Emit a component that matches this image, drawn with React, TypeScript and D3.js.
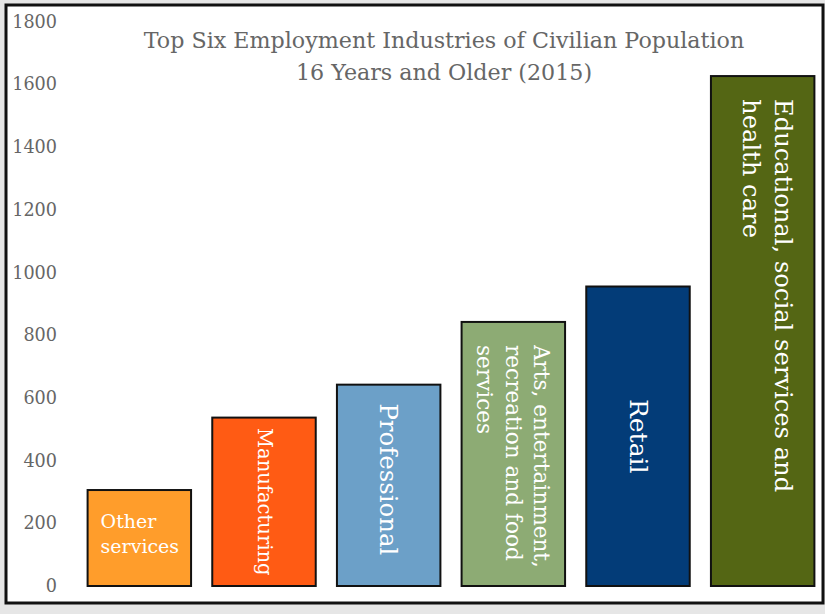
import React from "react";
import * as d3 from "d3";

const categories = [
  "Other services",
  "Manufacturing",
  "Professional",
  "Arts, entertainment, recreation and food services",
  "Retail",
  "Educational, social services and health care",
];
const values = [306, 537, 642, 842, 955, 1626];
const colors = ["#ff9d2b", "#ff5b14", "#6ca0c8", "#8dab74", "#033c78", "#546614"];
const yTicks = [0, 200, 400, 600, 800, 1000, 1200, 1400, 1600, 1800];
const titleLines = [
  "Top Six Employment Industries of Civilian Population",
  "16 Years and Older (2015)",
];
// how each label is broken and set inside its bar
const labelLines = [
  ["Other", "services"],
  ["Manufacturing"],
  ["Professional"],
  ["Arts, entertainment,", "recreation and food", "services"],
  ["Retail"],
  ["Educational, social services and", "health care"],
];
const labelSizes = [19, 19.5, 24.4, 21.6, 25, 24.2];

const W = 825;
const H = 614;
const FONT = "'DejaVu Serif', serif";

export default function App() {
  const x = d3
    .scaleBand<string>()
    .domain(categories)
    .range([77, 825])
    .paddingInner(0.17)
    .paddingOuter(0.085);

  const y = d3.scaleLinear().domain([0, 1800]).range([586, 21.5]);

  const renderLabel = (cat: string, i: number) => {
    const lines = labelLines[i];
    const fs = labelSizes[i];
    const x0 = x(cat)!;
    const cx = x0 + x.bandwidth() / 2;
    const top = y(values[i]);
    const mid = (top + y(0)) / 2;

    if (i === 0) {
      // horizontal label
      return (
        <text
          key={cat}
          fill="#fff"
          fontFamily={FONT}
          fontSize={fs}
          x={x0 + 13}
          y={mid - 10}
        >
          {lines.map((l, j) => (
            <tspan key={j} x={x0 + 13} dy={j === 0 ? 0 : 25}>
              {l}
            </tspan>
          ))}
        </text>
      );
    }

    const multi = lines.length > 1;
    const lh = i === 5 ? 32 : 28.5;
    const ay = multi ? top + 23 : mid - (i === 2 ? 6 : 0);
    const shift = i === 5 ? 4 : 0;
    return (
      <g key={cat} transform={`translate(${cx + shift},${ay}) rotate(90)`}>
        {lines.map((l, j) => (
          <text
            key={j}
            fill="#fff"
            fontFamily={FONT}
            fontSize={fs}
            textAnchor={multi ? "start" : "middle"}
            dominantBaseline="central"
            y={(j - (lines.length - 1) / 2) * lh}
          >
            {l}
          </text>
        ))}
      </g>
    );
  };

  return (
    <div
      style={{
        position: "fixed",
        left: 0,
        top: 0,
        width: W,
        height: H,
        background: "#e6e6e6",
      }}
    >
      <svg width={W} height={H}>
        <rect x={6} y={5} width={817} height={598} fill="#fff" stroke="#111" strokeWidth={3} />

        {titleLines.map((t, i) => (
          <text
            key={i}
            x={444}
            y={48 + i * 32}
            textAnchor="middle"
            fill="#666"
            fontFamily={FONT}
            fontSize={22.2}
          >
            {t}
          </text>
        ))}

        {yTicks.map((t) => (
          <text
            key={t}
            x={57}
            y={y(t)}
            dy="0.35em"
            textAnchor="end"
            fill="#666"
            fontFamily={FONT}
            fontSize={17.6}
          >
            {t}
          </text>
        ))}

        {categories.map((c, i) => (
          <rect
            key={c}
            x={x(c)}
            y={y(values[i])}
            width={x.bandwidth()}
            height={y(0) - y(values[i])}
            fill={colors[i]}
            stroke="#111"
            strokeWidth={2}
          />
        ))}

        {categories.map(renderLabel)}
      </svg>
    </div>
  );
}
